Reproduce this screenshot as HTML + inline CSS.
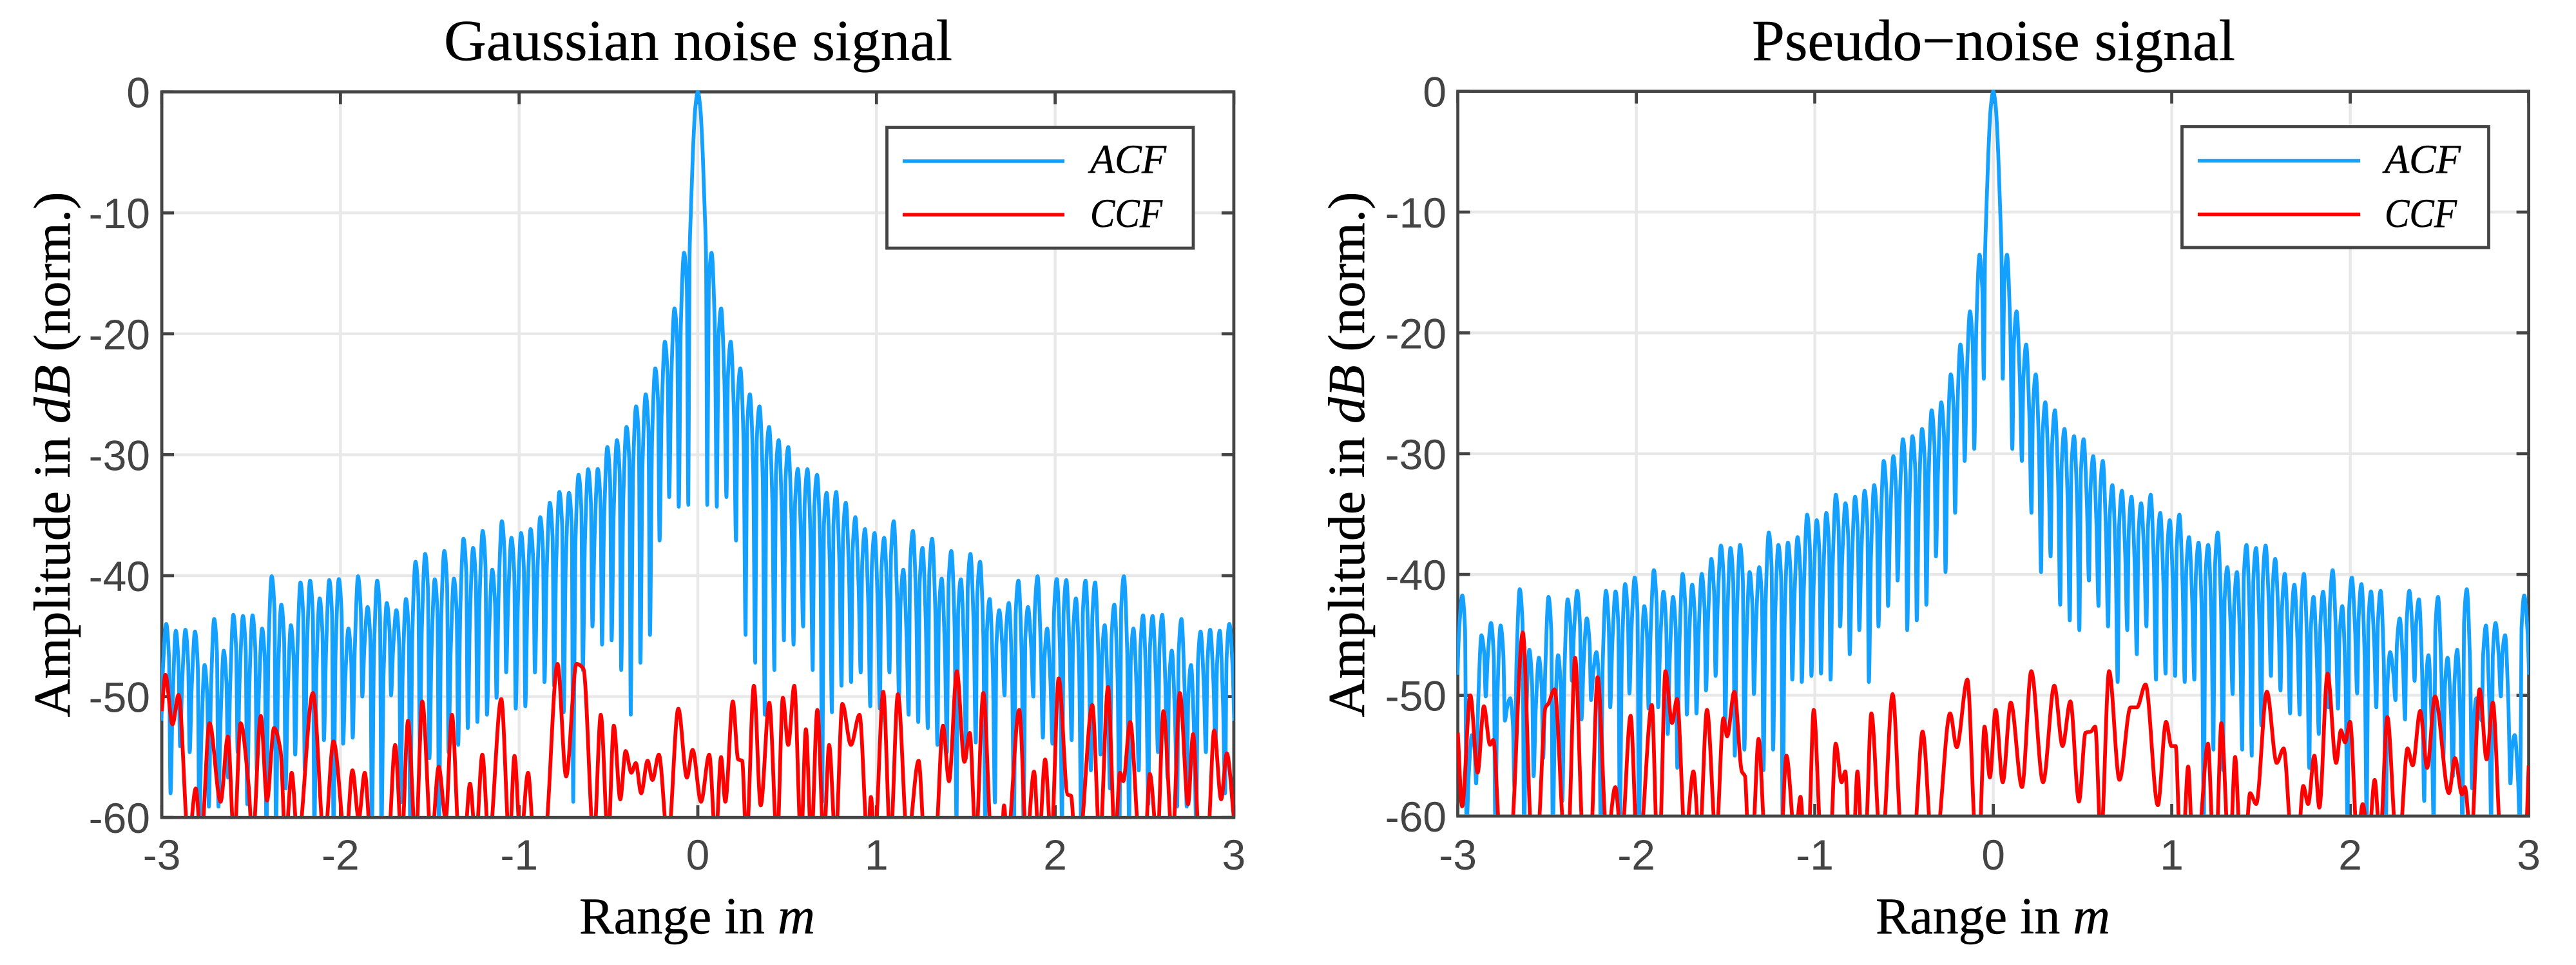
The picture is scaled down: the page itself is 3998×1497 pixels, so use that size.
<!DOCTYPE html>
<html lang="en">
<head>
<meta charset="utf-8">
<title>Gaussian noise and pseudo-noise correlation functions</title>
<style>
html,body{margin:0;padding:0;background:#fff;}
svg{display:block;}
.serif{font-family:"Liberation Serif",serif;fill:#000;stroke:#000;stroke-width:0.5px;}
.tick{font-family:"Liberation Sans",sans-serif;font-size:66px;fill:#444;}
</style>
</head>
<body>
<svg id="figure" xmlns="http://www.w3.org/2000/svg" width="3998" height="1497" viewBox="0 0 3998 1497">
  <rect width="3998" height="1497" fill="#fff"/>
  <defs>
    <clipPath id="clip-gauss"><rect x="250" y="138" width="1665" height="1128"/></clipPath>
    <clipPath id="clip-pn"><rect x="2261" y="137" width="1664" height="1127"/></clipPath>
  </defs>

  <g id="panel-gauss">
    <text class="serif" x="689" y="93" font-size="90" textLength="789" lengthAdjust="spacingAndGlyphs">Gaussian noise signal</text>
    <g id="gauss-axes"></g>
    <g id="gauss-series" clip-path="url(#clip-gauss)"></g>
    <text class="serif" x="899" y="1448" font-size="80" textLength="366" lengthAdjust="spacingAndGlyphs">Range in <tspan font-style="italic">m</tspan></text>
    <text class="serif" transform="translate(108 705) rotate(-90)" text-anchor="middle" font-size="80" textLength="815" lengthAdjust="spacingAndGlyphs">Amplitude in <tspan font-style="italic">dB</tspan> (norm.)</text>
    <g>
      <rect x="1376.5" y="197.5" width="475.5" height="187.5" fill="#fff" stroke="#444" stroke-width="4.8"/>
      <line x1="1401" x2="1652" y1="250" y2="250" stroke="#14a0ff" stroke-width="5.5"/>
      <line x1="1401" x2="1652" y1="333" y2="333" stroke="#ff0000" stroke-width="5.5"/>
      <text class="serif" x="1692" y="268" font-size="63" font-style="italic" textLength="118" lengthAdjust="spacingAndGlyphs">ACF</text>
      <text class="serif" x="1692" y="352" font-size="63" font-style="italic" textLength="112" lengthAdjust="spacingAndGlyphs">CCF</text>
    </g>
  </g>

  <g id="panel-pn">
    <text class="serif" x="2719" y="93" font-size="90" textLength="750" lengthAdjust="spacingAndGlyphs">Pseudo−noise signal</text>
    <g id="pn-axes"></g>
    <g id="pn-series" clip-path="url(#clip-pn)"></g>
    <text class="serif" x="2911" y="1448" font-size="80" textLength="364" lengthAdjust="spacingAndGlyphs">Range in <tspan font-style="italic">m</tspan></text>
    <text class="serif" transform="translate(2117 705) rotate(-90)" text-anchor="middle" font-size="80" textLength="815" lengthAdjust="spacingAndGlyphs">Amplitude in <tspan font-style="italic">dB</tspan> (norm.)</text>
    <g>
      <rect x="3386.5" y="196.5" width="476" height="187.5" fill="#fff" stroke="#444" stroke-width="4.8"/>
      <line x1="3411" x2="3663" y1="249.5" y2="249.5" stroke="#14a0ff" stroke-width="5.5"/>
      <line x1="3411" x2="3663" y1="332.5" y2="332.5" stroke="#ff0000" stroke-width="5.5"/>
      <text class="serif" x="3701" y="268" font-size="63" font-style="italic" textLength="118" lengthAdjust="spacingAndGlyphs">ACF</text>
      <text class="serif" x="3701" y="352" font-size="63" font-style="italic" textLength="112" lengthAdjust="spacingAndGlyphs">CCF</text>
    </g>
  </g>
</svg>

<script>
// Axis tick values
const xTickValues = [-3, -2, -1, 0, 1, 2, 3];
const yTickValues = [0, -10, -20, -30, -40, -50, -60];

// ACF is symmetric about zero range: main-lobe samples plus one-sided lobe readings
const mainLobeRange = [0, 0.014, 0.0276, 0.039, 0.046];
const mainLobeDb = [0, -1.3, -5.1, -10, -13.5];
const acfFirstPeakRange = 0.077;
const acfPeakSpacing = 0.05367;
const acfShoulderDropDb = [2.8, 6];

const gaussAcfPeakDb = [-13.3,-17.9,-20.65,-22.86,-25,-26,-27.7,-28.8,-29.36,-31.17,-31.2,-31.66,-33.15,-33.08,-33.97,-35.16,-36.15,-36.48,-36.87,-35.5,-39.5,-36.3,-37.7,-36.94,-40.24,-37.96,-40.3,-38.2,-38.85,-41.93,-42.85,-42.26,-40.41,-42.59,-40.05,-44.37,-40.28,-40.36,-41.88,-40.41,-40.56,-44.1,-42.39,-40.05,-44.37,-43.28,-43.33,-43.23,-46.2,-43.58,-47.39,-44.62,-44.47,-44.55,-43.99];
const gaussAcfTroughDb = [-34.14,-34.3,-33.5,-37.1,-44.9,-47.2,-51.5,-47.8,-45.35,-45.7,-44.2,-47.8,-58.7,-51.3,-49.1,-48.8,-48,-50.8,-51,-48,-50.1,-51.5,-52.1,-52.6,-54,-54.6,-61,-55.1,-53.8,-61,-58.75,-49.9,-61,-61,-50,-53.4,-53.9,-61,-53.6,-61,-56.1,-54.8,-57.6,-61,-61,-56.1,-58.9,-54.6,-56.7,-59.1,-59.1,-61,-54.6,-54.1,-58,-52];

const pnAcfPeakDb = [-13.53,-18.22,-20.96,-23.43,-25.74,-26.4,-27.95,-28.55,-28.8,-30.2,-30.6,-32.6,-33.07,-33.56,-34.1,-33.4,-34.9,-35.5,-35.05,-36.9,-37.36,-37.55,-36.53,-39.4,-39.8,-37.55,-37.8,-37.6,-38.7,-39.95,-40.84,-39.95,-41.85,-41.42,-39.64,-42.62,-40.25,-40.79,-41.4,-41.35,-46.43,-43.63,-41.35,-42.06,-46.68,-41.85,-46.89,-46.23,-41.22,-50.24,-44.22,-44.01,-45.03,-53.29,-41.73];
const pnAcfTroughDb = [-23.8,-29.6,-30.6,-34.9,-39.8,-38.5,-42.5,-43.8,-44.6,-40.5,-42.6,-44.3,-48.9,-44.6,-46.6,-44.3,-48.7,-48.2,-48.4,-48.9,-48.7,-61,-54.5,-56.2,-49.9,-54.5,-55,-52.5,-48.4,-49.6,-51.5,-51.6,-56,-53.2,-51,-51.1,-61,-49.85,-61,-51,-61,-50.4,-52,-48.8,-58.75,-61,-55.2,-56.7,-61,-57.7,-52.1,-61,-50.1,-57.3,-61,-48.3];

// CCF extrema (range in m, amplitude in dB; -62 means below the axis)
const gaussCcfRange = [-3,-2.98,-2.94,-2.906,-2.85,-2.81,-2.78,-2.733,-2.671,-2.63,-2.595,-2.559,-2.515,-2.492,-2.446,-2.411,-2.372,-2.335,-2.308,-2.273,-2.239,-2.154,-2.09,-2.039,-1.97,-1.933,-1.898,-1.864,-1.829,-1.733,-1.694,-1.657,-1.622,-1.579,-1.542,-1.491,-1.45,-1.411,-1.376,-1.335,-1.307,-1.275,-1.243,-1.206,-1.169,-1.1,-1.054,-1.026,-0.992,-0.95,-0.916,-0.859,-0.785,-0.737,-0.679,-0.64,-0.582,-0.543,-0.502,-0.47,-0.434,-0.404,-0.372,-0.347,-0.317,-0.281,-0.254,-0.218,-0.167,-0.109,-0.061,-0.029,0.018,0.064,0.1,0.13,0.154,0.196,0.226,0.248,0.272,0.314,0.352,0.4,0.444,0.476,0.506,0.54,0.578,0.605,0.635,0.669,0.705,0.735,0.771,0.809,0.857,0.905,0.951,0.969,0.99,1.038,1.078,1.12,1.174,1.236,1.27,1.33,1.372,1.406,1.45,1.492,1.522,1.556,1.598,1.645,1.7,1.714,1.732,1.799,1.84,1.882,1.909,1.944,1.978,2.02,2.07,2.089,2.112,2.135,2.208,2.25,2.296,2.335,2.363,2.381,2.42,2.473,2.503,2.53,2.572,2.606,2.657,2.698,2.744,2.772,2.807,2.853,2.89,2.929,2.961,3];
const gaussCcfDb = [-51.2,-48.2,-52.3,-49.85,-62,-57.6,-62,-52.2,-58.7,-53.3,-62,-52.2,-57.2,-62,-51.6,-58.6,-52.6,-54.5,-62,-56.3,-62,-49.7,-62,-53.7,-62,-56.1,-60.1,-56.3,-62,-62,-54,-62,-52,-62,-50.4,-62,-55.8,-60.1,-51.5,-62,-62,-57.2,-62,-54.8,-62,-50.2,-62,-54.9,-62,-56.3,-62,-62,-47.3,-56.6,-47.3,-47.7,-62,-51.5,-62,-52.4,-58.5,-54.5,-56.3,-55.5,-58,-55.3,-56.9,-54.8,-62,-51,-56.7,-54.4,-58.7,-54.8,-62,-55,-58.7,-50.4,-55.2,-55.3,-62,-49.1,-59,-50.5,-62,-50.1,-54,-49.1,-62,-52.7,-62,-51.1,-62,-54,-62,-50.6,-54,-51.5,-62,-58.3,-62,-49.6,-62,-49.8,-62,-55.3,-62,-62,-52.4,-57,-47.9,-55.4,-53,-62,-49.7,-62,-62,-59,-62,-51.1,-62,-56.2,-62,-55.2,-62,-48.5,-58.1,-58.2,-62,-62,-50.7,-62,-49.2,-62,-56.3,-57,-52.1,-62,-62,-56.4,-62,-51.2,-62,-49.7,-58.9,-53.1,-62,-62,-52.8,-58.5,-54.7,-60];

const pnCcfRange = [-3,-2.976,-2.93,-2.889,-2.854,-2.82,-2.801,-2.762,-2.705,-2.636,-2.585,-2.555,-2.509,-2.493,-2.458,-2.401,-2.382,-2.343,-2.297,-2.256,-2.217,-2.164,-2.118,-2.083,-2.032,-1.996,-1.98,-1.913,-1.883,-1.869,-1.837,-1.8,-1.772,-1.726,-1.68,-1.646,-1.604,-1.553,-1.512,-1.491,-1.451,-1.409,-1.391,-1.372,-1.349,-1.315,-1.277,-1.19,-1.159,-1.11,-1.08,-1.06,-1.036,-1.006,-0.964,-0.913,-0.883,-0.85,-0.829,-0.807,-0.783,-0.761,-0.737,-0.717,-0.683,-0.633,-0.621,-0.564,-0.512,-0.446,-0.396,-0.344,-0.32,-0.242,-0.205,-0.145,-0.097,-0.079,-0.049,-0.019,0.013,0.053,0.098,0.161,0.213,0.279,0.342,0.388,0.432,0.48,0.517,0.547,0.571,0.603,0.649,0.707,0.769,0.805,0.853,0.922,0.968,0.998,1.022,1.046,1.064,1.092,1.116,1.148,1.203,1.232,1.25,1.278,1.317,1.329,1.355,1.383,1.413,1.439,1.473,1.533,1.588,1.627,1.673,1.707,1.737,1.764,1.799,1.827,1.873,1.921,1.948,1.971,1.999,2.04,2.07,2.103,2.137,2.167,2.208,2.259,2.275,2.321,2.35,2.392,2.431,2.475,2.553,2.587,2.626,2.642,2.677,2.725,2.764,2.799,2.845,2.982,3];
const pnCcfDb = [-53.1,-59.2,-50,-56.4,-50.9,-54.1,-53.7,-62,-62,-44.8,-62,-62,-51,-50.7,-49.5,-62,-62,-46.9,-62,-62,-48.5,-62,-57.6,-62,-51.7,-62,-62,-50.8,-62,-62,-48,-52.3,-50.3,-62,-56.3,-62,-51.2,-62,-51.9,-53.4,-49.7,-56.3,-56.7,-62,-62,-53.6,-62,-62,-55,-62,-58.4,-62,-62,-51.2,-62,-62,-54,-57.2,-56.3,-62,-62,-56.3,-62,-62,-51.5,-62,-62,-49.9,-62,-62,-53,-62,-62,-51.5,-54.3,-48.7,-62,-62,-52.6,-56.8,-51.2,-57.2,-50.6,-57.6,-48,-57.2,-49.2,-54.2,-50.5,-58.8,-53.1,-53,-52.6,-62,-48,-57,-51,-51,-49.1,-59.1,-52.2,-54.2,-54.2,-62,-62,-55.9,-62,-62,-54,-62,-62,-52.3,-62,-62,-55.1,-62,-62,-58.1,-59,-49.7,-55.6,-54.4,-62,-62,-57.5,-59,-55,-59.3,-48.2,-55.6,-52.9,-53.9,-52.2,-62,-59,-62,-57,-62,-51.8,-62,-62,-54.4,-55.8,-51.3,-56,-50.1,-58.1,-55.2,-58.2,-57.6,-62,-49.5,-55.3,-50.6,-62,-62,-55.8];

const SVG_NS = 'http://www.w3.org/2000/svg';

function svgEl(tag, attrs, parent) {
  const el = document.createElementNS(SVG_NS, tag);
  Object.keys(attrs).forEach(function (k) { el.setAttribute(k, attrs[k]); });
  parent.appendChild(el);
  return el;
}

// Shape-preserving cubic through the points (flat tangents at extrema).
function monotonePath(pts) {
  const n = pts.length;
  const slopes = [];
  for (let i = 0; i < n - 1; i++) {
    slopes.push((pts[i + 1][1] - pts[i][1]) / Math.max(pts[i + 1][0] - pts[i][0], 0.001));
  }
  const tangents = [slopes[0]];
  for (let i = 1; i < n - 1; i++) {
    const a = slopes[i - 1], b = slopes[i];
    tangents.push(a * b <= 0 ? 0 : 2 * a * b / (a + b));
  }
  tangents.push(slopes[n - 2]);
  let d = 'M' + pts[0][0].toFixed(2) + ' ' + pts[0][1].toFixed(2);
  for (let i = 0; i < n - 1; i++) {
    const h = (pts[i + 1][0] - pts[i][0]) / 3;
    d += 'C' + (pts[i][0] + h).toFixed(2) + ' ' + (pts[i][1] + h * tangents[i]).toFixed(2) +
      ' ' + (pts[i + 1][0] - h).toFixed(2) + ' ' + (pts[i + 1][1] - h * tangents[i + 1]).toFixed(2) +
      ' ' + pts[i + 1][0].toFixed(2) + ' ' + pts[i + 1][1].toFixed(2);
  }
  return d;
}

// One-sided ACF (range, dB) in ascending range, built from the lobe readings.
function acfSamples(peaks, troughs) {
  const out = mainLobeRange.map(function (r, i) { return [r, mainLobeDb[i]]; });
  peaks.forEach(function (peak, k) {
    const r = acfFirstPeakRange + k * acfPeakSpacing;
    const before = troughs[k];
    const after = troughs[k + 1];
    out.push([r - 0.024, before]);
    out.push([r - 0.0155, peak - Math.min(acfShoulderDropDb[0], 0.3 * (peak - before))]);
    out.push([r, peak]);
    out.push([r + 0.018, peak - Math.min(acfShoulderDropDb[1], 0.45 * (peak - after))]);
  });
  out.push([3.002, troughs[troughs.length - 1]]);
  return out;
}

function drawPanel(cfg) {
  const xScale = function (r) { return cfg.x0 + r * cfg.pxPerMetre; };
  const yScale = function (db) { return cfg.yTop - db * cfg.pxPerDb; };
  const axes = document.getElementById(cfg.axesId);
  const series = document.getElementById(cfg.seriesId);
  const yBottom = yScale(yTickValues[yTickValues.length - 1]);
  const xLeft = xScale(xTickValues[0]);
  const xRight = xScale(xTickValues[xTickValues.length - 1]);

  xTickValues.slice(1, -1).forEach(function (v) {
    const g = svgEl('line', { x1: xScale(v), x2: xScale(v), y1: cfg.yTop, y2: yBottom, stroke: '#e8e8e8', 'stroke-width': 4.4 }, axes);
    
    
  });
  yTickValues.slice(1, -1).forEach(function (v) {
    const g = svgEl('line', { x1: xLeft, x2: xRight, y1: yScale(v), y2: yScale(v), stroke: '#e8e8e8', 'stroke-width': 4.4 }, axes);
    
    
  });

  const box = svgEl('rect', { x: xLeft, y: cfg.yTop, width: xRight - xLeft, height: yBottom - cfg.yTop, fill: 'none', stroke: '#444', 'stroke-width': 4.8 }, axes);
  
  

  xTickValues.forEach(function (v) {
    const x = xScale(v);
    [[cfg.yTop, cfg.yTop + 19], [yBottom, yBottom - 19]].forEach(function (span) {
      const t = svgEl('line', { x1: x, x2: x, y1: span[0], y2: span[1], stroke: '#444', 'stroke-width': 4.8 }, axes);
      
      
    });
    const label = svgEl('text', { x: x, y: 1349, 'text-anchor': 'middle', class: 'tick' }, axes);
    label.textContent = String(v);
    
    
  });

  yTickValues.forEach(function (v) {
    const y = yScale(v);
    [[xLeft, xLeft + 19], [xRight, xRight - 19]].forEach(function (span) {
      const t = svgEl('line', { x1: span[0], x2: span[1], y1: y, y2: y, stroke: '#444', 'stroke-width': 4.8 }, axes);
      
      
    });
    const label = svgEl('text', { x: cfg.yLabelX, y: y + 24, 'text-anchor': 'end', class: 'tick' }, axes);
    label.textContent = String(v);
    
    
  });

  const oneSided = acfSamples(cfg.acfPeaks, cfg.acfTroughs);
  const acfPts = oneSided.slice(1).reverse().map(function (p) { return [xScale(-p[0]), yScale(p[1])]; })
    .concat(oneSided.map(function (p) { return [xScale(p[0]), yScale(p[1])]; }));
  const acf = svgEl('path', { d: monotonePath(acfPts), fill: 'none', stroke: '#14a0ff', 'stroke-width': 5.8, 'stroke-linejoin': 'round' }, series);
  
  

  const ccfPts = cfg.ccfRange.map(function (r, i) { return [xScale(r), yScale(cfg.ccfDb[i])]; });
  const ccf = svgEl('path', { d: monotonePath(ccfPts), fill: 'none', stroke: '#ff0000', 'stroke-width': 5.8, 'stroke-linejoin': 'round' }, series);
  
  
}

drawPanel({
  axesId: 'gauss-axes', seriesId: 'gauss-series',
  x0: 1083, pxPerMetre: 277.3, yTop: 142.6, pxPerDb: 18.76, yLabelX: 233,
  acfPeaks: gaussAcfPeakDb, acfTroughs: gaussAcfTroughDb,
  ccfRange: gaussCcfRange, ccfDb: gaussCcfDb
});
drawPanel({
  axesId: 'pn-axes', seriesId: 'pn-series',
  x0: 3093.6, pxPerMetre: 277, yTop: 141.6, pxPerDb: 18.74, yLabelX: 2245,
  acfPeaks: pnAcfPeakDb, acfTroughs: pnAcfTroughDb,
  ccfRange: pnCcfRange, ccfDb: pnCcfDb
});
</script>
</body>
</html>
